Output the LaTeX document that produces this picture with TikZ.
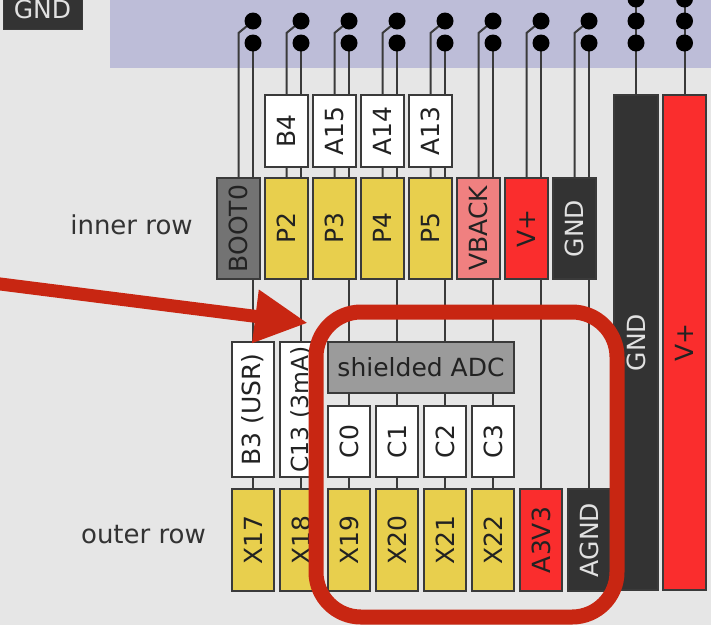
\documentclass[tikz,border=0pt]{standalone}
\usepackage{fontspec}
\setmainfont{DejaVu Sans}
\usepackage{graphicx}
\usetikzlibrary{backgrounds,arrows.meta}
\definecolor{bg}{RGB}{230,230,230}
\definecolor{lav}{RGB}{189,189,216}
\definecolor{pinyel}{RGB}{232,207,77}
\definecolor{darkbox}{RGB}{51,51,51}
\definecolor{bootgray}{RGB}{115,115,115}
\definecolor{adcgray}{RGB}{155,155,155}
\definecolor{pinkback}{RGB}{240,128,128}
\definecolor{vred}{RGB}{250,45,45}
\definecolor{markred}{RGB}{200,38,18}
\definecolor{edgecol}{RGB}{58,58,58}
\definecolor{txtdark}{RGB}{34,34,34}
\definecolor{txtlight}{RGB}{225,225,225}
\newcommand\vtext[1]{\rotatebox{90}{#1}}
\begin{document}
\begin{tikzpicture}[x=1pt,y=-1pt,
  font=\fontsize{25}{30}\selectfont,
  pinbox/.style={draw=edgecol, line width=1.8pt, inner sep=0pt, minimum width=43pt, text=txtdark},
  outbox/.style={pinbox, minimum width=42pt},
  wire/.style={draw=edgecol, line width=2pt},
  dot/.style={circle, fill=black, inner sep=0pt, minimum size=17pt},
  rowlabel/.style={anchor=base, text=darkbox, font=\fontsize{26}{30}\selectfont}
]
\useasboundingbox (0,0) rectangle (711,625);

% inner row
\foreach \i/\lab/\fc/\tc in {0/BOOT0/bootgray/txtdark, 1/P2/pinyel/txtdark, 2/P3/pinyel/txtdark,
  3/P4/pinyel/txtdark, 4/P5/pinyel/txtdark, 5/VBACK/pinkback/txtdark, 6/V+/vred/txtdark,
  7/GND/darkbox/txtlight}{
  \node[pinbox, fill=\fc, text=\tc, minimum height=101pt] (in\i) at ({238.5+48*\i},228.5) {\vtext{\lab}};
  \node[dot] (dA\i) at ({253+48*\i},21) {};
  \node[dot] (dB\i) at ({253+48*\i},43) {};
}
% upper labels
\foreach \i/\lab in {1/B4, 2/A15, 3/A14, 4/A13}{
  \node[pinbox, fill=white, minimum height=72pt] (up\i) at ({238.5+48*\i},131) {\vtext{\lab}};
}
% outer row
\foreach \i/\lab/\fc/\tc in {0/X17/pinyel/txtdark, 1/X18/pinyel/txtdark, 2/X19/pinyel/txtdark,
  3/X20/pinyel/txtdark, 4/X21/pinyel/txtdark, 5/X22/pinyel/txtdark, 6/A3V3/vred/txtdark,
  7/AGND/darkbox/txtlight}{
  \node[outbox, fill=\fc, text=\tc, minimum height=102pt] (out\i) at ({253+48*\i},540) {\vtext{\lab}};
}
% middle labels
\node[outbox, fill=white, minimum height=135pt] (mid0) at (253,409.5) {\vtext{B3 (USR)}};
\node[outbox, fill=white, minimum height=135pt, font=\fontsize{23.5}{28}\selectfont] (mid1) at (301,409.5) {\vtext{C13 (3mA)}};
\foreach \i/\lab in {2/C0, 3/C1, 4/C2, 5/C3}{
  \node[outbox, fill=white, minimum height=71pt] (mid\i) at ({253+48*\i},441.5) {\vtext{\lab}};
}
\node[pinbox, fill=adcgray, minimum width=186pt, minimum height=51pt] (adc) at (421,367.5) {shielded ADC};

% big bars
\node[pinbox, fill=darkbox, text=txtlight, minimum width=44pt, minimum height=495pt] (bar0) at (636,342.5) {\vtext{GND}};
\node[pinbox, fill=vred, minimum width=43pt, minimum height=495pt] (bar1) at (684.5,342.5) {\vtext{V+}};
\foreach \j/\xx in {0/636, 1/684.5}{
  \node[dot] (dT\j) at (\xx,-1) {};
  \node[dot] (dU\j) at (\xx,21) {};
  \node[dot] (dV\j) at (\xx,43) {};
}

% top-left tag
\node[fill=darkbox, draw=edgecol, line width=1pt, minimum width=79pt, minimum height=39pt, inner sep=0pt, text=txtlight] (gndtag) at (42.5,9.5) {GND};

% row labels
\node[rowlabel] (innerlbl) at (131.5,234) {inner row};
\node[rowlabel] (outerlbl) at (143.5,543) {outer row};

\begin{pgfonlayer}{background}
  \fill[bg] (0,0) rectangle (711,625);
  \fill[lav] (110,-2) rectangle (712,68);
  \foreach \i in {0,...,7}{
    \draw[wire] (dA\i.center) -- ++(-14.5,12) -- (in\i.north);
    \draw[wire] (dB\i.center) -- (out\i.north);
  }
  \foreach \j in {0,1}{
    \draw[wire] (dT\j.center) -- (bar\j.north);
  }
\end{pgfonlayer}

% red arrow
\coordinate (arrowtail) at (-6,283.2);
\coordinate (arrowtip) at (308,323);
\draw[markred, line width=13pt, -{Triangle[length=53pt,width=50pt]}] (arrowtail) -- (arrowtip);

% red highlight
\draw[markred, line width=15pt, rounded corners=45pt] (316,312) rectangle (617,617);
\end{tikzpicture}
\end{document}
